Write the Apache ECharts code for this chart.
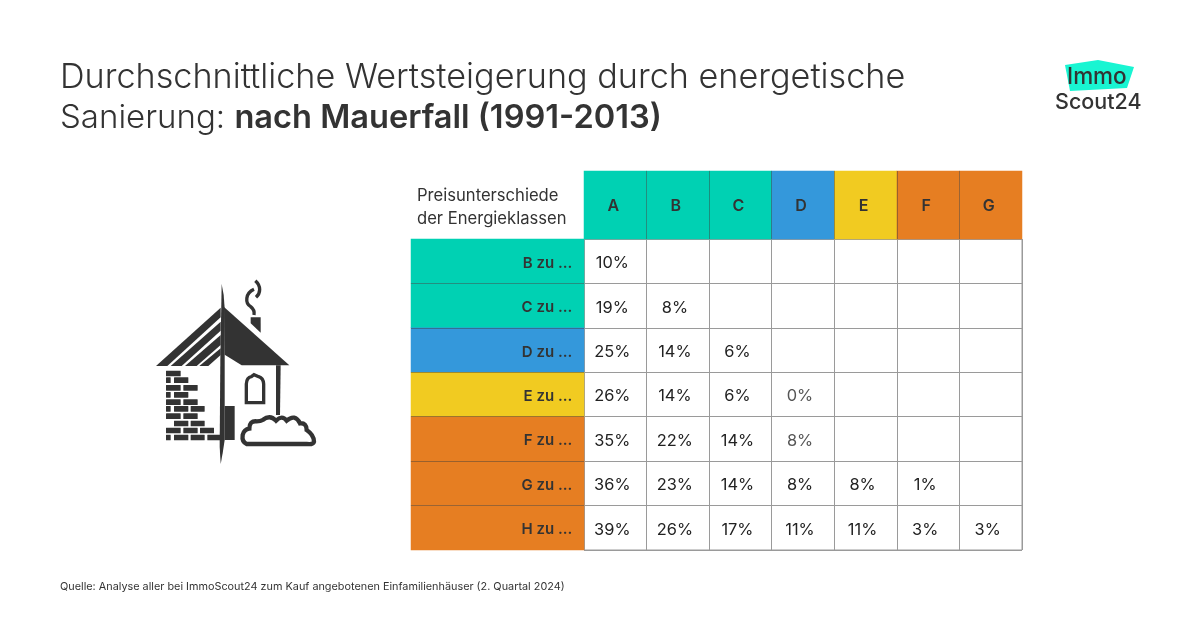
<!DOCTYPE html>
<html><head><meta charset="utf-8">
<style>html,body{margin:0;background:#fff}#c{width:1200px;height:630px}</style>
<script src="https://cdn.jsdelivr.net/npm/echarts@6/dist/echarts.min.js"></script>
</head><body><div id="c"></div>
<script>
const columns = ['A','B','C','D','E','F','G'];
const rows = ['B zu ...','C zu ...','D zu ...','E zu ...','F zu ...','G zu ...','H zu ...'];
const rowB = [10,null,null,null,null,null,null];
const rowC = [19,8,null,null,null,null,null];
const rowD = [25,14,6,null,null,null,null];
const rowE = [26,14,6,0,null,null,null];
const rowF = [35,22,14,8,null,null,null];
const rowG = [36,23,14,8,8,1,null];
const rowH = [39,26,17,11,11,3,3];
const values = [rowB,rowC,rowD,rowE,rowF,rowG,rowH];
const classColor = {A:'#00D1B3',B:'#00D1B3',C:'#00D1B3',D:'#3498DB',E:'#F1CB21',F:'#E67E22',G:'#E67E22',H:'#E67E22'};

const INK='#333333', LINE='#9a9a9a', FONT='Inter, "Noto Sans", sans-serif';
const cells=[];
values.forEach((r,y)=>r.forEach((v,x)=>{ if(v!==null) cells.push({value:[x,y,v],
  label:{color:((y===3||y===4)&&x===3)?'#555':'#222'}}); }));

const regPath=(name,d)=>echarts.graphic.registerShape(name,echarts.graphic.extendPath(d,{}));
regPath('smoke','M376 62 C394 78 392 100 378 112 M372 88 C345 100 345 130 362 140 C372 148 374 155 372 165');
regPath('arch','M349 428 L349 372 Q350 352 364 350 L372 344 L386 350 Q400 354 401 372 L401 428 Z');
regPath('bush','M350 552 Q335 545 338 525 Q342 508 358 506 Q358 482 380 484 Q392 484 398 480 Q420 462 438 482 Q456 464 470 482 Q495 460 510 490 Q530 488 530 510 Q552 525 552 545 Q550 554 530 552 L350 552 Z');

const bricks=[[108,332,44],[108,352,14],[132,352,43],[108,375,44],[160,375,43],[108,396,14],[132,396,43],[108,418,44],[160,418,43],
 [108,438,14],[132,438,43],[182,438,42],[108,460,44],[160,460,43],[132,482,43],[182,482,42],[108,503,44],[160,503,43],[210,503,42],
 [108,524,14],[132,524,43],[182,524,42],[232,524,42]];
const poly=(points)=>({type:'polygon',shape:{points},style:{fill:INK}});
const house=[
 poly([[275,72],[281,105],[284,145],[284,540],[278,580],[272,612],[269,560],[271,300]]),
 poly([[282,141],[478,316],[335,316],[284,284]]),
 poly([[272,143],[78,318],[112,318],[272,172]]),
 poly([[272,185],[122,318],[155,318],[272,212]]),
 poly([[272,225],[165,318],[200,318],[272,255]]),
 poly([[272,265],[208,318],[235,318],[272,285]]),
 poly([[362,172],[392,172],[392,218],[362,190]]),
 poly([[438,316],[452,316],[450,465],[438,465]]),
 poly([[284,438],[314,438],[314,540],[284,540]]),
 {type:'smoke',style:{fill:'none',stroke:INK,lineWidth:10}},
 {type:'arch',style:{fill:'none',stroke:INK,lineWidth:10}},
 {type:'bush',style:{fill:'#fff',stroke:INK,lineWidth:13}}
].concat(bricks.map(b=>({type:'rect',shape:{x:b[0],y:b[1],width:b[2],height:17,r:1},style:{fill:INK}})));

const bandLine={show:true,showMinLine:false,showMaxLine:false,lineStyle:{color:'rgba(60,60,60,0.45)',width:1}};
const option={
 animation:false, backgroundColor:'#fff', textStyle:{fontFamily:FONT},
 title:[{left:60,top:57,padding:0,textStyle:{rich:{
   a:{fontFamily:FONT,fontSize:34.2,fontWeight:300,color:INK,lineHeight:41},
   c:{fontFamily:FONT,fontSize:33,fontWeight:300,color:INK,lineHeight:41},
   b:{fontFamily:FONT,fontSize:32.6,fontWeight:600,color:INK,lineHeight:41}}},
   text:'{a|Durchschnittliche Wertsteigerung durch energetische}\n{c|Sanierung: }{b|nach Mauerfall (1991-2013)}'},
  {left:60,top:581,padding:0,text:'Quelle: Analyse aller bei ImmoScout24 zum Kauf angebotenen Einfamilienhäuser (2. Quartal 2024)',
   textStyle:{fontFamily:FONT,fontSize:10.85,fontWeight:400,color:INK}}],
 grid:[
  {left:584,top:239,width:438,height:311,show:true,borderColor:LINE,borderWidth:1,backgroundColor:'#fff'},
  {left:584,top:171,width:438,height:68},
  {left:411,top:239,width:173,height:311}
 ],
 xAxis:[
  {gridIndex:0,type:'category',data:columns,axisLabel:{show:false},axisTick:{show:false},axisLine:{show:false},splitLine:{show:true,lineStyle:{color:LINE,width:1}}},
  {gridIndex:1,type:'category',z:5,data:columns,axisLabel:{show:false},axisTick:{show:false},axisLine:{show:false},splitLine:bandLine},
  {gridIndex:2,type:'category',data:['x'],show:false}
 ],
 yAxis:[
  {gridIndex:0,type:'category',inverse:true,data:rows,axisLabel:{show:false},axisTick:{show:false},axisLine:{show:false},splitLine:{show:true,lineStyle:{color:LINE,width:1}}},
  {gridIndex:1,type:'category',data:['h'],show:false},
  {gridIndex:2,type:'category',z:5,inverse:true,data:rows,axisLabel:{show:false},axisTick:{show:false},axisLine:{show:false},splitLine:bandLine}
 ],
 series:[
  {type:'heatmap',xAxisIndex:0,yAxisIndex:0,data:cells,silent:true,
   itemStyle:{color:'rgba(255,255,255,0)'},
   label:{show:true,offset:[-3,2],fontFamily:FONT,fontSize:16.4,fontWeight:400,formatter:p=>p.value[2]+'%'}},
  {type:'heatmap',xAxisIndex:1,yAxisIndex:1,silent:true,
   data:columns.map((c,i)=>({value:[i,0,1],itemStyle:{color:classColor[c]}})),
   label:{show:true,offset:[-2,1],fontFamily:FONT,fontSize:16,fontWeight:600,color:INK,formatter:p=>columns[p.value[0]]}},
  {type:'heatmap',xAxisIndex:2,yAxisIndex:2,silent:true,
   data:rows.map((r,i)=>({value:[0,i,1],itemStyle:{color:classColor[r[0]]}})),
   label:{show:true,position:'insideRight',distance:12,offset:[0,2],fontFamily:FONT,fontSize:15,fontWeight:600,color:INK,formatter:p=>rows[p.value[1]]}}
 ],
 graphic:[
  {type:'text',left:417,top:184,style:{text:'Preisunterschiede\nder Energieklassen',font:'400 16.6px '+FONT,fill:INK,lineHeight:23}},
  {type:'group',x:130,y:260,scaleX:1/3,scaleY:1/3,children:house},
  {type:'polygon',shape:{points:[[1065,65],[1098,60],[1134,67],[1127,88],[1070,91]]},style:{fill:'#19F5D2'}},
  {type:'text',x:1067,y:66,style:{text:'Immo',font:'500 22.5px '+FONT,fill:INK}},
  {type:'text',x:1055,y:92,style:{text:'Scout24',font:'500 21.5px '+FONT,fill:INK}}
 ]
};
echarts.init(document.getElementById('c')).setOption(option);
</script></body></html>
